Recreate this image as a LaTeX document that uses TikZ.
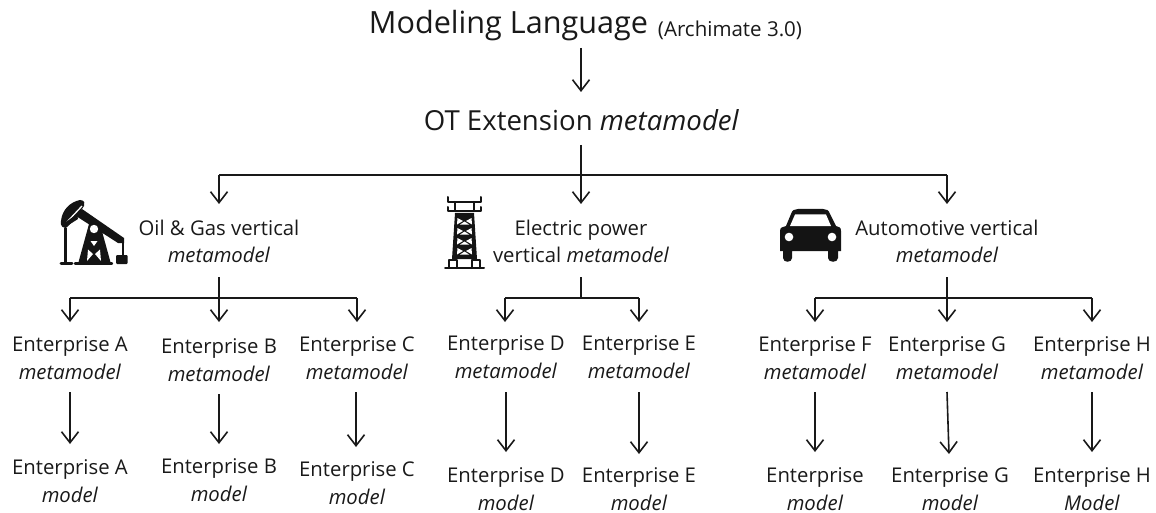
\documentclass[tikz,border=0pt]{standalone}
\usepackage{fontspec}
\setmainfont{Open Sans}
\usetikzlibrary{arrows.meta}
\tikzset{
  lab/.style={align=center,inner sep=0pt,font=\fontsize{20.3}{28}\selectfont,text=black!90},
  labt/.style={align=center,inner sep=0pt,font=\fontsize{20.3}{27}\selectfont,text=black!90},
  arr/.style={draw=black!90,line width=1.6pt,-{Straight Barb[length=11pt,width=17pt,line width=1.6pt]}},
  bus/.style={draw=black!90,line width=1.6pt},
  stem/.style={draw=black!90,line width=2.2pt},
  ink/.style={fill=black!92,draw=none},
  inkline/.style={draw=black!92,line cap=round,line join=round}
}
\begin{document}
\begin{tikzpicture}[x=1pt,y=-1pt]
\useasboundingbox (0,0) rectangle (1156,513);
% titles
\node[inner sep=0pt,font=\fontsize{30.6}{36}\selectfont,text=black!90] (lang) at (508.5,26) {Modeling Language};
\node[inner sep=0pt,font=\fontsize{20.5}{24}\selectfont,text=black!90] (arch) at (730,30) {(Archimate 3.0)};
\node[inner sep=0pt,font=\fontsize{27.6}{32}\selectfont,text=black!90] (ot) at (581.5,120) {OT Extension \textit{metamodel}};
\coordinate (langout) at (581,48);
\coordinate (otin) at (581,92);
\draw[arr] (langout) -- (otin);
% verticals
\node[labt] (oil) at (219,241) {Oil \& Gas vertical\\\textit{metamodel}};
\node[labt] (elec) at (581,241) {Electric power\\vertical \textit{metamodel}};
\node[labt] (auto) at (947,241) {Automotive vertical\\\textit{metamodel}};
\coordinate (otout) at (581,145);
\coordinate (bus0) at (581,175);
\coordinate (bus0l) at (219,175);
\coordinate (bus0r) at (947,175);
\coordinate (oilin) at (219,204);
\coordinate (elecin) at (581,204);
\coordinate (autoin) at (947,204);
\draw[stem] (otout) -- (bus0);
\draw[bus] (bus0l) -- (bus0r);
\draw[arr] (bus0l) -- (oilin);
\draw[arr] (bus0) -- (elecin);
\draw[arr] (bus0r) -- (autoin);
% enterprise metamodels
\node[lab] (ma) at (70,358) {Enterprise A\\\textit{metamodel}};
\node[lab] (mb) at (219,360) {Enterprise B\\\textit{metamodel}};
\node[lab] (mc) at (357,358) {Enterprise C\\\textit{metamodel}};
\node[lab] (md) at (506,357) {Enterprise D\\\textit{metamodel}};
\node[lab] (me) at (639,357) {Enterprise E\\\textit{metamodel}};
\node[lab] (mf) at (815,358) {Enterprise F\\\textit{metamodel}};
\node[lab] (mg) at (947,358) {Enterprise G\\\textit{metamodel}};
\node[lab] (mh) at (1092,358) {Enterprise H\\\textit{metamodel}};
% enterprise models
\node[lab] (a) at (70,481) {Enterprise A\\\textit{model}};
\node[lab] (b) at (219,480) {Enterprise B\\\textit{model}};
\node[lab] (c) at (357,483) {Enterprise C\\\textit{model}};
\node[lab] (d) at (506,489) {Enterprise D\\\textit{model}};
\node[lab] (e) at (639,489) {Enterprise E\\\textit{model}};
\node[lab] (f) at (815,489) {Enterprise\\\textit{model}};
\node[lab] (g) at (950,489) {Enterprise G\\\textit{model}};
\node[lab] (h) at (1092,489) {Enterprise H\\\textit{Model}};
% oil bus
\coordinate (o0) at (219,277); \coordinate (o1) at (219,298);
\coordinate (o1l) at (70,298); \coordinate (o1r) at (357,298);
\coordinate (oa) at (70,322); \coordinate (ob) at (219,322); \coordinate (oc) at (357,322);
\draw[stem] (o0) -- (o1);
\draw[bus] (o1l) -- (o1r);
\draw[arr] (o1l) -- (oa); \draw[arr] (o1) -- (ob); \draw[arr] (o1r) -- (oc);
% electric bus
\coordinate (e0) at (581,277); \coordinate (e1) at (581,298);
\coordinate (e1l) at (505,298); \coordinate (e1r) at (639,298);
\coordinate (ed) at (505,322); \coordinate (ee) at (639,322);
\draw[stem] (e0) -- (e1);
\draw[bus] (e1l) -- (e1r);
\draw[arr] (e1l) -- (ed); \draw[arr] (e1r) -- (ee);
% auto bus
\coordinate (u0) at (947,277); \coordinate (u1) at (947,298);
\coordinate (u1l) at (815,298); \coordinate (u1r) at (1092,298);
\coordinate (uf) at (815,322); \coordinate (ug) at (947,322); \coordinate (uh) at (1092,322);
\draw[stem] (u0) -- (u1);
\draw[bus] (u1l) -- (u1r);
\draw[arr] (u1l) -- (uf); \draw[arr] (u1) -- (ug); \draw[arr] (u1r) -- (uh);
% metamodel to model
\draw[arr] (70,392) -- (70,444);
\draw[arr] (219,394) -- (219,444);
\draw[arr] (356,392) -- (356,447);
\draw[arr] (506,392) -- (506,452);
\draw[arr] (639,392) -- (639,454);
\draw[arr] (815,392) -- (815,452);
\draw[arr] (947,392) -- (949,454);
\draw[arr] (1092,392) -- (1092,452);
% pump jack icon
\begin{scope}
\draw[inkline,line width=2.5pt] (65.5,228) -- (65.5,262);
\draw[inkline,line width=3pt] (61,263) -- (72,263);
\path[ink] (61,221) .. controls (62,210) and (70,202) .. (80,200) .. controls (85,200) and (85,204) .. (84,206) .. controls (78,215) and (72,223) .. (67,227) .. controls (63,229) and (60,226) .. (61,221) -- cycle;
\draw[draw=white,line width=1.3pt] (67,222) -- (82,206);
\path[ink] (82,209) -- (124,238) -- (124,243) -- (118,243) -- (76,216) -- cycle;
\path[ink] (66,222) -- (77,214) -- (78,219) -- (67,226) -- cycle;
\path[ink] (89,224) -- (100,224) -- (111,264) -- (100,264) -- (78,264) -- cycle;
\path[fill=white] (94,229) circle (4.2);
\path[fill=white] (90.5,241) -- (97.5,241) -- (94,246) -- cycle;
\path[fill=white] (87,261) -- (93,254) -- (88,249.5) -- cycle;
\path[fill=white] (101,261) -- (95,254) -- (100,249.5) -- cycle;
\draw[inkline,line width=2.4pt] (75,263.5) -- (112,263.5);
\draw[inkline,line width=2pt] (123,241) -- (123,256);
\path[ink,rounded corners=1pt] (116,255) rectangle (127.5,264);
\end{scope}
% tower icon
\begin{scope}
\draw[inkline,line width=2pt] (448,197) -- (448,202) -- (481,202) -- (481,197);
\draw[inkline,line width=2pt] (448,207) -- (448,211) -- (481,211) -- (481,207);
\draw[inkline,line width=2pt] (455,202) -- (455,211) (474,202) -- (474,211);
\path[ink] (455,213) -- (474,213) -- (477,259) -- (452,259) -- cycle;
\foreach \yy in {218,228,238,248}{
  \path[fill=white] (457.5,\yy) -- (463,\yy+3) -- (457,\yy+6.5) -- cycle;
  \path[fill=white] (471.5,\yy) -- (466,\yy+3) -- (472,\yy+6.5) -- cycle;
  \path[fill=white] (460,\yy+6.5) -- (469,\yy+6.5) -- (464.5,\yy+3.5) -- cycle;
}
\draw[inkline,line width=2pt] (445,268) -- (484,268);
\draw[inkline,line width=2pt] (449,268) -- (449,260) -- (457,260) -- (457,268);
\draw[inkline,line width=2pt] (472,268) -- (472,260) -- (480,260) -- (480,268);
\end{scope}
% car icon
\begin{scope}
\path[ink] (780,231) .. controls (780,227) and (783,227) .. (786,226) -- (791,214) .. controls (792,210) and (795,209) .. (798,209) -- (823,209) .. controls (826,209) and (829,210) .. (830,214) -- (836,226) .. controls (839,227) and (841,227) .. (841,231) -- (841,251) -- (838,251) -- (838,258) .. controls (838,263) and (828,263) .. (828,258) -- (828,251) -- (792,251) -- (792,258) .. controls (792,263) and (783,263) .. (783,258) -- (783,251) -- (780,251) -- cycle;
\path[fill=white] (795,214.5) -- (826,214.5) -- (831,226) -- (790,226) -- cycle;
\path[fill=white] (789,237) circle (4.3) (832,237) circle (4.3);
\end{scope}
\end{tikzpicture}
\end{document}
